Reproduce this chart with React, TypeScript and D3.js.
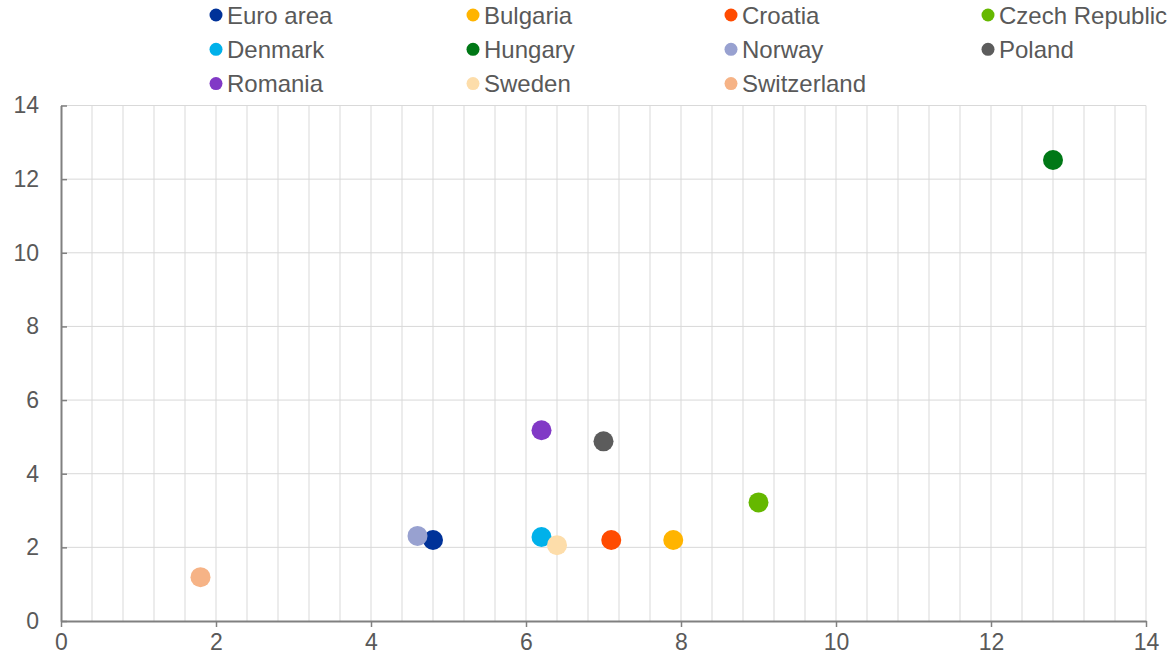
import { useEffect, useRef } from "react";
import * as d3 from "d3";

// series
const countries = [
  "Euro area", "Bulgaria", "Croatia", "Czech Republic",
  "Denmark", "Hungary", "Norway", "Poland",
  "Romania", "Sweden", "Switzerland",
];
const xValues = [4.8, 7.9, 7.1, 9.0, 6.2, 12.8, 4.6, 7.0, 6.2, 6.4, 1.8];
const yValues = [2.2, 2.2, 2.2, 3.22, 2.28, 12.52, 2.31, 4.88, 5.18, 2.06, 1.19];
const colors = [
  "#003299", "#ffb400", "#ff4b00", "#65b800",
  "#00b1ea", "#007816", "#98a1d0", "#5c5c5c",
  "#8139c6", "#fdddaa", "#f6b386",
];
const xTicks = [0, 2, 4, 6, 8, 10, 12, 14];
const yTicks = [0, 2, 4, 6, 8, 10, 12, 14];

function App() {
  const svgRef = useRef<SVGSVGElement | null>(null);

  useEffect(() => {
    const width = 1173;
    const height = 660;
    const margin = { top: 105.5, right: 27, bottom: 39, left: 61 };

    const svg = d3.select(svgRef.current);
    svg.selectAll("*").remove();

    const x = d3.scaleLinear().domain([0, 14]).range([margin.left, width - margin.right]);
    const y = d3.scaleLinear().domain([0, 14]).range([height - margin.bottom, margin.top]);

    const font = "Arial, 'Liberation Sans', sans-serif";
    const textColor = "#595959";

    // vertical grid every 0.4
    const minorX = d3.range(1, 36).map((i) => +(i * 0.4).toFixed(2)).filter((v) => v <= 14);
    svg.append("g")
      .selectAll("line")
      .data(minorX)
      .enter()
      .append("line")
      .attr("x1", (d) => x(d))
      .attr("x2", (d) => x(d))
      .attr("y1", y(0))
      .attr("y2", y(14))
      .attr("stroke", "#d9d9d9")
      .attr("stroke-width", 1);

    // horizontal grid
    svg.append("g")
      .selectAll("line")
      .data(yTicks.slice(1))
      .enter()
      .append("line")
      .attr("x1", x(0))
      .attr("x2", x(14))
      .attr("y1", (d) => y(d))
      .attr("y2", (d) => y(d))
      .attr("stroke", "#d9d9d9")
      .attr("stroke-width", 1);

    // axes
    const axisColor = "#808080";
    const xAxis = svg.append("g")
      .attr("transform", `translate(0,${y(0)})`)
      .call(d3.axisBottom(x).tickValues(xTicks).tickSize(6).tickSizeOuter(0).tickPadding(7));
    const yAxis = svg.append("g")
      .attr("transform", `translate(${x(0)},0)`)
      .call(d3.axisLeft(y).tickValues(yTicks).tickSize(-6).tickSizeOuter(0).tickPadding(22));

    [xAxis, yAxis].forEach((a) => {
      a.select(".domain").attr("stroke", axisColor).attr("stroke-width", 2);
      a.selectAll(".tick line").attr("stroke", axisColor).attr("stroke-width", 1.5);
      a.selectAll(".tick text")
        .attr("fill", textColor)
        .style("font-family", font)
        .style("font-size", "23px");
    });

    // points
    const idx = d3.range(countries.length);
    svg.append("g")
      .selectAll("circle")
      .data(idx)
      .enter()
      .append("circle")
      .attr("cx", (i) => x(xValues[i]))
      .attr("cy", (i) => y(yValues[i]))
      .attr("r", 10)
      .attr("fill", (i) => colors[i]);

    // legend, 4 columns
    const legend = svg.append("g");
    const colX = [216, 473, 731, 988];
    const items = legend.selectAll("g")
      .data(idx)
      .enter()
      .append("g")
      .attr("transform", (i) => `translate(${colX[i % 4]},${15 + Math.floor(i / 4) * 34.3})`);
    items.append("circle")
      .attr("r", 6.5)
      .attr("fill", (i) => colors[i]);
    items.append("text")
      .attr("x", 11)
      .attr("dy", "0.36em")
      .attr("fill", textColor)
      .style("font-family", font)
      .style("font-size", "24px")
      .text((i) => countries[i]);
  }, []);

  return (
    <svg
      ref={svgRef}
      width={1173}
      height={660}
      style={{ position: "absolute", left: 0, top: 0, background: "#fff" }}
    ></svg>
  );
}

export default App;
